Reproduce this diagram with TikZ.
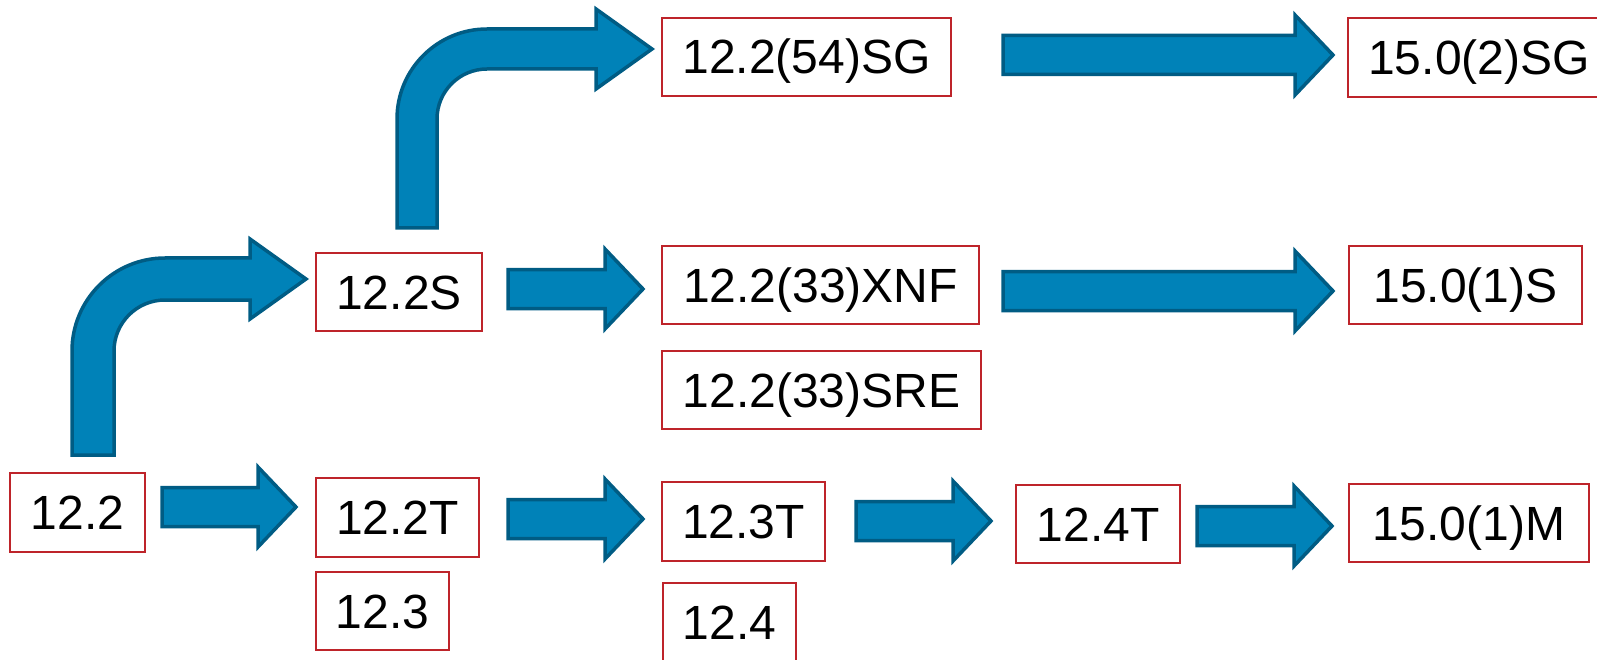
\documentclass[tikz,border=0pt]{standalone}
\usepackage{fontspec}
\setmainfont{Liberation Sans}
\usetikzlibrary{calc}

\definecolor{arrowfill}{RGB}{0,130,184}
\definecolor{arrowedge}{RGB}{0,92,132}
\definecolor{boxred}{RGB}{190,36,42}

% straight block arrow from a tail coordinate to a tip coordinate (same height)
\newcommand\blockarrow[2]{%
  \draw[flowarrow] let \p1=(#1), \p2=(#2) in
    (\x1,\y1+19.5pt) -- (\x2-38pt,\y1+19.5pt) -- (\x2-38pt,\y1+40pt) -- (\x2,\y1)
    -- (\x2-38pt,\y1-40pt) -- (\x2-38pt,\y1-19.5pt) -- (\x1,\y1-19.5pt) -- cycle;}

% block arrow going up, bending right: tail, tip, half shaft width, outer radius
\newcommand\bentarrow[4]{%
  \draw[flowarrow] let \p1=(#1), \p2=(#2) in
    (\x1-#3pt,\y1) -- (\x1-#3pt,\y2+#3pt-#4pt)
    arc[start angle=180, end angle=90, radius=#4pt]
    -- (\x2-56pt,\y2+#3pt) -- (\x2-56pt,\y2+40pt) -- (\x2,\y2)
    -- (\x2-56pt,\y2-40pt) -- (\x2-56pt,\y2-#3pt)
    -- (\x1-#3pt+#4pt,\y2-#3pt)
    arc[start angle=90, end angle=180, radius=#4pt-2*#3pt]
    -- (\x1+#3pt,\y1) -- cycle;}

\begin{document}
\begin{tikzpicture}[x=1pt, y=-1pt,
  flowarrow/.style={fill=arrowfill, draw=arrowedge, line width=3.5pt, line join=miter},
  verbox/.style={draw=boxred, line width=2.6pt, fill=white, inner sep=0pt,
    text height=34pt, text depth=0pt, font=\fontsize{48}{52}\selectfont}]
\useasboundingbox (0,0) rectangle (1597,660);
\clip (0,0) rectangle (1597,660);

% release boxes
\node[verbox, minimum width=135pt, minimum height=79pt] (n122)  at (77.5,512.5) {12.2};
\node[verbox, minimum width=166pt, minimum height=78pt] (n122S) at (399,292) {12.2S};
\node[verbox, minimum width=163pt, minimum height=79pt] (n122T) at (397.5,517.5) {12.2T};
\node[verbox, minimum width=133pt, minimum height=78pt] (n123)  at (382.5,611) {12.3};
\node[verbox, minimum width=289pt, minimum height=78pt] (n54SG) at (806.5,57) {12.2(54)SG};
\node[verbox, minimum width=317pt, minimum height=78pt] (nXNF)  at (820.5,285) {12.2(33)XNF};
\node[verbox, minimum width=319pt, minimum height=78pt] (nSRE)  at (821.5,390) {12.2(33)SRE};
\node[verbox, minimum width=163pt, minimum height=79pt] (n123T) at (743.5,521.5) {12.3T};
\node[verbox, minimum width=133pt, minimum height=79pt] (n124)  at (729.5,622.5) {12.4};
\node[verbox, minimum width=164pt, minimum height=78pt] (n124T) at (1098,524) {12.4T};
\node[verbox, minimum width=262pt, minimum height=79pt] (n2SG)  at (1479,57.5) {15.0(2)SG};
\node[verbox, minimum width=233pt, minimum height=78pt] (n1S)   at (1465.5,285) {15.0(1)S};
\node[verbox, minimum width=240pt, minimum height=78pt] (n1M)   at (1469,523) {15.0(1)M};

% arrow ends
\coordinate (a1s) at (162,507);  \coordinate (a1e) at (296,507);
\coordinate (a2s) at (508,289);  \coordinate (a2e) at (643,289);
\coordinate (a3s) at (508,519);  \coordinate (a3e) at (643,519);
\coordinate (a4s) at (856,521);  \coordinate (a4e) at (991,521);
\coordinate (a5s) at (1197,526); \coordinate (a5e) at (1332,526);
\coordinate (a6s) at (1003,55);  \coordinate (a6e) at (1333,55);
\coordinate (a7s) at (1003,291); \coordinate (a7e) at (1333,291);
\coordinate (b1s) at (93,455);   \coordinate (b1e) at (306,279);
\coordinate (b2s) at (417,228);  \coordinate (b2e) at (652,49);

\blockarrow{a1s}{a1e}
\blockarrow{a2s}{a2e}
\blockarrow{a3s}{a3e}
\blockarrow{a4s}{a4e}
\blockarrow{a5s}{a5e}
\blockarrow{a6s}{a6e}
\blockarrow{a7s}{a7e}
\bentarrow{b1s}{b1e}{21}{93}
\bentarrow{b2s}{b2e}{20}{90}
\end{tikzpicture}
\end{document}
